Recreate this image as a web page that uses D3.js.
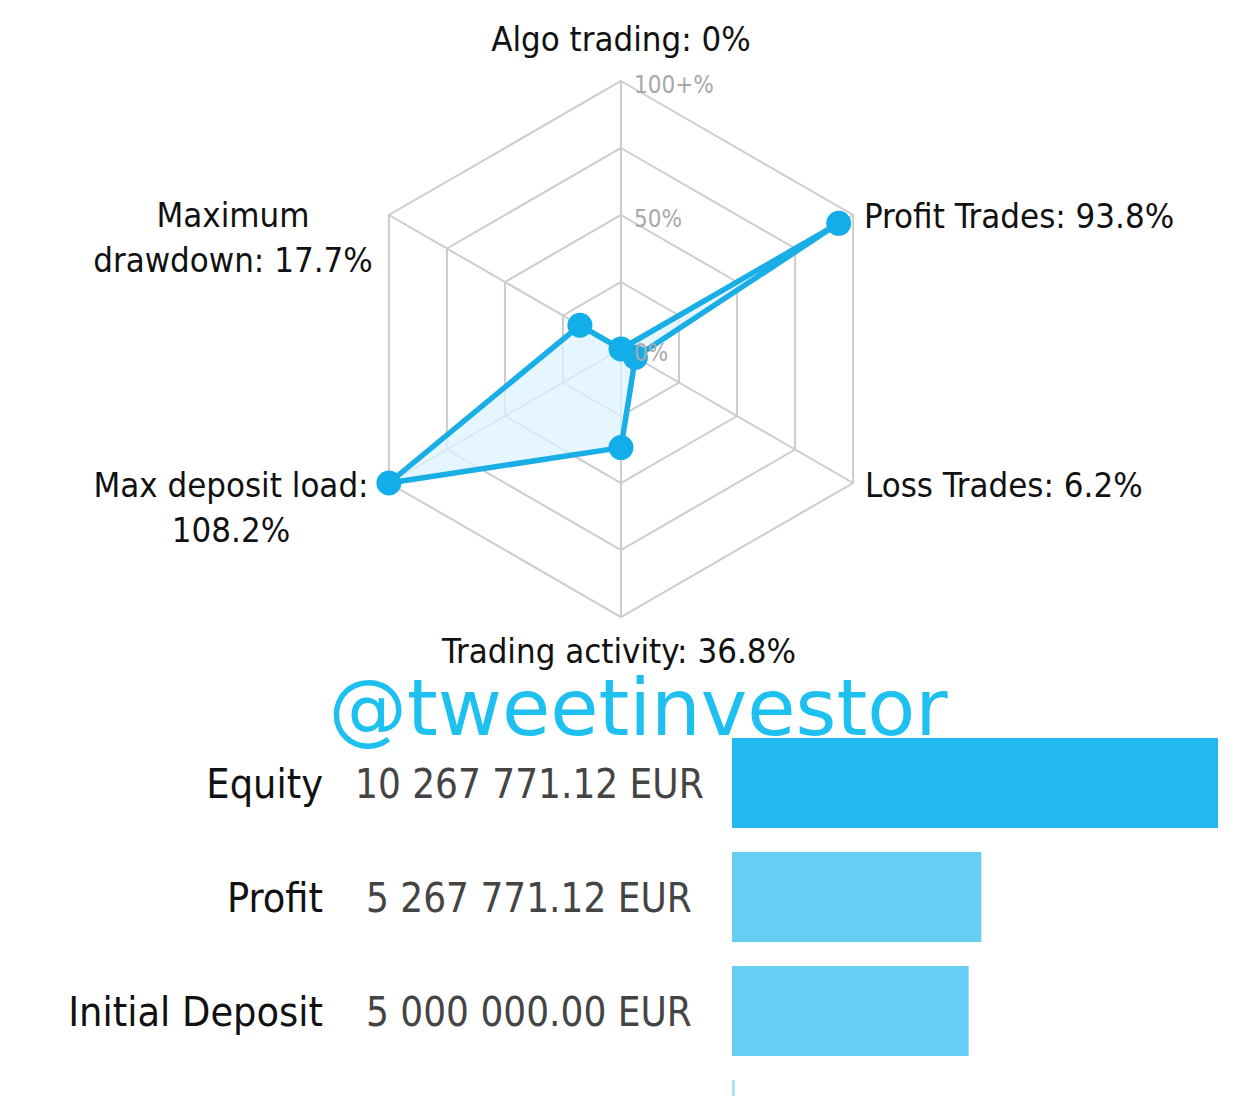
<!DOCTYPE html>
<html><head><meta charset="utf-8">
<script src="https://cdn.jsdelivr.net/npm/d3@7"></script>
<style>body{margin:0;background:#fff}svg{display:block}</style>
</head><body>
<svg id="c" width="1242" height="1096"></svg>
<script>
// ---- data ----
const radarAxes = ["Algo trading", "Profit Trades", "Loss Trades", "Trading activity", "Max deposit load", "Maximum drawdown"];
const radarValues = [0, 93.8, 6.2, 36.8, 108.2, 17.7];
const radarTicks = [0, 25, 50, 75, 100];
const radarTickLabels = {0: "0%", 50: "50%", 100: "100+%"};
const barCategories = ["Equity", "Profit", "Initial Deposit", "Withdrawals"];
const barValues = [10267771.12, 5267771.12, 5000000.00, 60000];
const barTexts = ["10 267 771.12 EUR", "5 267 771.12 EUR", "5 000 000.00 EUR", ""];
const watermark = "@tweetinvestor";

const svg = d3.select("#c");
const FONT = "'DejaVu Sans Condensed', 'DejaVu Sans', sans-serif";
const cx = 621, cy = 349, R = 268;
const r = d3.scaleLinear().domain([0, 100]).range([0, R]).clamp(true);
const ang = i => -Math.PI / 2 + i * Math.PI / 3;
const pt = (i, v) => [cx + r(v) * Math.cos(ang(i)), cy + r(v) * Math.sin(ang(i))];

const g = svg.append("g");
// grid rings
radarTicks.filter(t => t > 0).forEach(t => {
  g.append("polygon")
    .attr("points", radarAxes.map((_, i) => pt(i, t).join(",")).join(" "))
    .attr("fill", "none").attr("stroke", "#cccccc").attr("stroke-width", 2);
});
// spokes
radarAxes.forEach((_, i) => {
  const p = pt(i, 100);
  g.append("line").attr("x1", cx).attr("y1", cy).attr("x2", p[0]).attr("y2", p[1])
    .attr("stroke", "#cccccc").attr("stroke-width", 2);
});
// data polygon
const pts = radarValues.map((v, i) => pt(i, v));
g.append("polygon").attr("points", pts.map(p => p.join(",")).join(" "))
  .attr("fill", "#dcf3fd").attr("fill-opacity", 0.75)
  .attr("stroke", "#1aaee6").attr("stroke-width", 5.5).attr("stroke-linejoin", "round");
g.selectAll("circle.pt").data(pts).join("circle").attr("class", "pt")
  .attr("cx", d => d[0]).attr("cy", d => d[1]).attr("r", 12.5).attr("fill", "#13aeea");
// tick labels (drawn above the series)
Object.keys(radarTickLabels).forEach(k => {
  const t = +k;
  g.append("text").attr("x", cx + 13).attr("y", cy - r(t) + 12)
    .attr("font-family", FONT).attr("font-size", 24).attr("fill", "#a8a8a8")
    .text(radarTickLabels[k]);
});

// axis labels
const lab = (lines, x, y, anchor) => {
  const t = svg.append("text").attr("x", x).attr("y", y).attr("text-anchor", anchor)
    .attr("font-family", FONT).attr("font-size", 34.5).attr("fill", "#111");
  lines.forEach((l, j) => t.append("tspan").attr("x", x).attr("dy", j ? 45 : 0).text(l));
};
const f = d3.format("~");
const L = radarAxes.map((a, i) => a + ": " + f(radarValues[i]) + "%");
lab([L[0]], 621, 51, "middle");
lab([L[1]], 864, 228, "start");
lab([L[2]], 865, 497, "start");
lab([L[3]], 619, 663, "middle");
lab([radarAxes[4] + ":", f(radarValues[4]) + "%"], 231, 497, "middle");
lab(["Maximum", "drawdown: " + f(radarValues[5]) + "%"], 233, 227, "middle");

// watermark
svg.append("text").attr("x", 638).attr("y", 735).attr("text-anchor", "middle")
  .attr("font-family", "'DejaVu Sans', sans-serif").attr("font-size", 78.5).attr("fill", "#1ec0f0")
  .text(watermark);

// bars
const x = d3.scaleLinear().domain([0, d3.max(barValues)]).range([0, 486]);
const y = d3.scaleBand().domain(barCategories).range([738, 738 + 114 * 4 - 24]).paddingInner(24 / 114).paddingOuter(0);
const colors = ["#22b8f0", "#66cdf3", "#66cdf3", "#a8e0f7"];
const bx = 732;
barCategories.forEach((c, i) => {
  svg.append("rect").attr("x", bx).attr("y", y(c)).attr("width", x(barValues[i])).attr("height", y.bandwidth())
    .attr("fill", colors[i]);
  if (i < 3) {
    svg.append("text").attr("x", 323).attr("y", y(c) + 60).attr("text-anchor", "end")
      .attr("font-family", FONT).attr("font-size", 41).attr("fill", "#111").text(c);
    svg.append("text").attr("x", i === 0 ? 355 : 366).attr("y", y(c) + 60)
      .attr("font-family", FONT).attr("font-size", 40).attr("fill", "#444").text(barTexts[i]);
  }
});
</script>
</body></html>
